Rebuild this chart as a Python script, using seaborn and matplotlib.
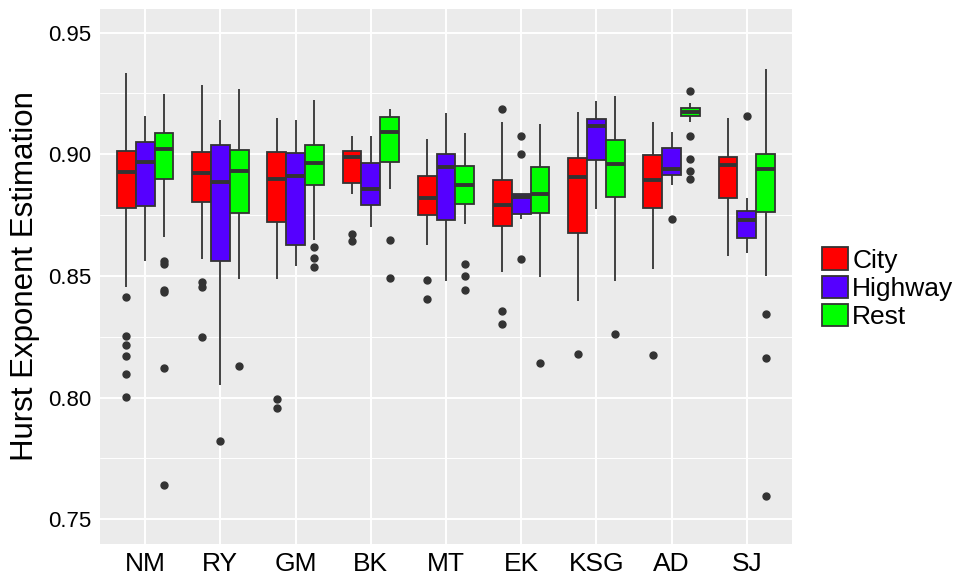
import numpy as np
import pandas as pd
import seaborn as sns
import matplotlib
matplotlib.use("Agg")
import matplotlib.pyplot as plt
from matplotlib.ticker import MultipleLocator

# 数据（从图中读取的箱线图统计量）
cats = ["NM", "RY", "GM", "BK", "MT", "EK", "KSG", "AD", "SJ"]
groups = ["City", "Highway", "Rest"]

city_lo = [0.8454, 0.8569, 0.8489, 0.8835, 0.8628, 0.8515, 0.8397, 0.8528, 0.8581]
city_q1 = [0.8778, 0.8804, 0.8720, 0.8882, 0.8749, 0.8706, 0.8676, 0.8779, 0.8822]
city_med = [0.8926, 0.8923, 0.8898, 0.8989, 0.8822, 0.8793, 0.8908, 0.8896, 0.8955]
city_q3 = [0.9015, 0.9011, 0.9008, 0.9015, 0.8909, 0.8894, 0.8984, 0.8997, 0.8989]
city_hi = [0.9334, 0.9283, 0.9150, 0.9074, 0.9063, 0.9133, 0.9174, 0.9133, 0.9150]
city_out = [[0.8412, 0.8253, 0.8215, 0.8169, 0.8097, 0.8003], [0.8473, 0.8454, 0.8250],
            [0.7992, 0.7958], [0.8672, 0.8643], [0.8484, 0.8403], [0.9185, 0.8356, 0.8303],
            [0.8180], [0.8174], []]

hw_lo = [0.8563, 0.8051, 0.8541, 0.8699, 0.8477, 0.8735, 0.8776, 0.8874, 0.8596]
hw_q1 = [0.8787, 0.8561, 0.8628, 0.8793, 0.8731, 0.8754, 0.8978, 0.8916, 0.8655]
hw_med = [0.8970, 0.8887, 0.8909, 0.8857, 0.8948, 0.8823, 0.9117, 0.8941, 0.8731]
hw_q3 = [0.9051, 0.9037, 0.9005, 0.8964, 0.9000, 0.8838, 0.9144, 0.9026, 0.8768]
hw_hi = [0.9157, 0.9140, 0.9140, 0.9074, 0.9169, 0.8838, 0.9218, 0.9093, 0.8820]
hw_out = [[], [0.7821], [], [], [], [0.9074, 0.9003, 0.8570], [], [0.8732], [0.9159]]

rest_lo = [0.8660, 0.8487, 0.8649, 0.8859, 0.8712, 0.8495, 0.8477, 0.9133, 0.8499]
rest_q1 = [0.8900, 0.8760, 0.8875, 0.8970, 0.8795, 0.8758, 0.8824, 0.9157, 0.8761]
rest_med = [0.9023, 0.8930, 0.8962, 0.9091, 0.8874, 0.8838, 0.8959, 0.9174, 0.8941]
rest_q3 = [0.9088, 0.9018, 0.9040, 0.9155, 0.8953, 0.8948, 0.9060, 0.9192, 0.9001]
rest_hi = [0.9247, 0.9269, 0.9222, 0.9188, 0.9088, 0.9124, 0.9238, 0.9209, 0.9351]
rest_out = [[0.8562, 0.8550, 0.8443, 0.8432, 0.8120, 0.7642], [0.8128], [0.8620, 0.8572, 0.8536],
            [0.8649, 0.8491], [0.8548, 0.8500, 0.8444], [0.8141], [0.8261],
            [0.9258, 0.9073, 0.8982, 0.8930, 0.8900], [0.8345, 0.8161, 0.7594]]

colors = {"City": "#FF0000", "Highway": "#5500FF", "Rest": "#00FF00"}


# 把五数概括 + 离群点还原成一组样本点（n = 4m+1，四分位数正好落在样本上）
def expand(lo, q1, med, q3, hi, out):
    low_out = sorted(v for v in out if v < q1)
    up_out = sorted(v for v in out if v > q3)
    m = max(len(low_out), len(up_out)) + 1
    vals = low_out + [lo] + [q1] * (m - len(low_out)) + [med] * m + [q3] * m
    vals += [q3] * (m - 1 - len(up_out)) + [hi] + up_out
    return vals


series = {
    "City": (city_lo, city_q1, city_med, city_q3, city_hi, city_out),
    "Highway": (hw_lo, hw_q1, hw_med, hw_q3, hw_hi, hw_out),
    "Rest": (rest_lo, rest_q1, rest_med, rest_q3, rest_hi, rest_out),
}
rows = []
for g in groups:
    lo, q1, med, q3, hi, out = series[g]
    for i, c in enumerate(cats):
        for v in expand(lo[i], q1[i], med[i], q3[i], hi[i], out[i]):
            rows.append({"site": c, "type": g, "hurst": v})
df = pd.DataFrame(rows)

sns.set_theme(style="darkgrid")
plt.rcParams["font.family"] = ["Liberation Sans", "DejaVu Sans"]

fig = plt.figure(figsize=(9.64, 5.77), dpi=100)
ax = fig.add_axes([100 / 964, 33 / 577, 692 / 964, 535 / 577])
ax.set_facecolor("#EBEBEB")

sns.boxplot(data=df, x="site", y="hurst", hue="type", order=cats, hue_order=groups,
            palette=colors, saturation=1, width=0.75, gap=0, linecolor="#333333",
            linewidth=1.3, whis=1.5, showcaps=False, ax=ax,
            medianprops=dict(linewidth=2.8, color="#333333"),
            flierprops=dict(marker="o", markerfacecolor="#333333", markeredgecolor="#333333",
                            markersize=5))

ax.set_xlim(-0.6, 8.6)
ax.set_ylim(0.7398, 0.9597)
ax.yaxis.set_major_locator(MultipleLocator(0.05))
ax.yaxis.set_minor_locator(MultipleLocator(0.025))
ax.set_yticks([0.75, 0.80, 0.85, 0.90, 0.95])
ax.set_yticklabels(["0.75", "0.80", "0.85", "0.90", "0.95"])
ax.grid(which="major", color="white", linewidth=1.4)
ax.grid(which="minor", axis="y", color="white", linewidth=0.7)
ax.set_axisbelow(True)
for s in ax.spines.values():
    s.set_visible(False)
ax.tick_params(axis="both", which="major", length=4, width=1, color="#333333",
               labelcolor="black", pad=2)
ax.tick_params(axis="y", labelsize=16)
ax.tick_params(axis="x", labelsize=19)
ax.tick_params(which="minor", length=0)
ax.set_xlabel("")
ax.set_ylabel("Hurst Exponent Estimation", fontsize=22.5, color="black", labelpad=6)

sns.move_legend(ax, "center left", bbox_to_anchor=(1.009, 0.478), frameon=False, title=None,
                fontsize=19, handlelength=1.0, handleheight=0.95, handletextpad=0.15,
                labelspacing=0.1)
for t in ax.get_legend().get_texts():
    t.set_color("black")

fig.savefig("out.png", dpi=100)
